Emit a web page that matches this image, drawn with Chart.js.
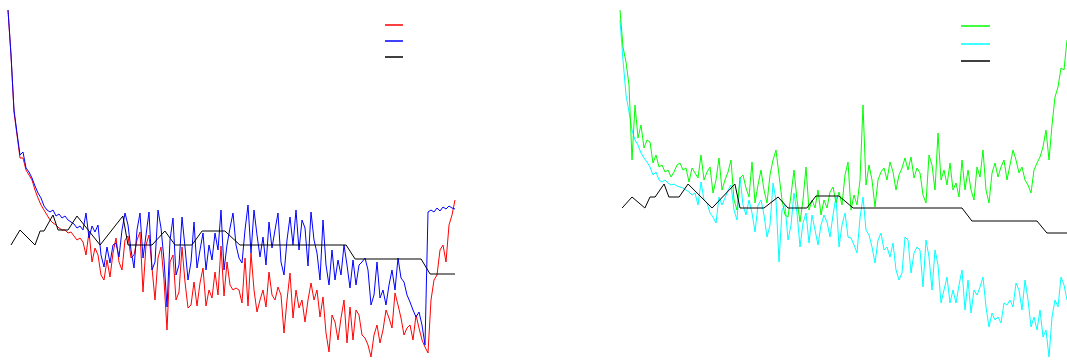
<!DOCTYPE html>
<html>
<head>
<meta charset="utf-8">
<script src="https://cdn.jsdelivr.net/npm/chart.js@4/dist/chart.umd.min.js"></script>
<style>
  html, body { margin: 0; padding: 0; background: #fff; }
  body { width: 1067px; height: 360px; position: relative; overflow: hidden; }
  .panel { position: absolute; top: 0; height: 360px; }
  #leftPanel { left: 0; width: 460px; }
  #rightPanel { left: 612px; width: 455px; }
  .legend { position: absolute; }
  .legend div { height: 2px; opacity: 0.75; }
</style>
</head>
<body>
<div class="panel" id="leftPanel"><canvas id="leftChart"></canvas></div>
<div class="panel" id="rightPanel"><canvas id="rightChart"></canvas></div>
<div class="legend" id="leftLegend" style="left:385px; top:24px; width:18px;"></div>
<div class="legend" id="rightLegend" style="left:961px; top:25px; width:29px;"></div>
<script>
// step index shared by every series
const steps = [];
for (let i = 0; i < 150; i++) steps.push(i);

// left panel
const redValues = [
  350,305,248,225,202,202,190,185,180,170,
  162,155,150,145,140,137,135,132,130,130,
  127,128,124,120,122,118,105,128,98,112,
  105,85,80,100,83,107,122,98,90,120,
  124,102,105,120,128,68,115,125,92,60,
  102,113,80,30,98,105,60,68,113,78,
  52,55,78,54,77,92,54,70,62,88,
  65,114,64,98,75,70,72,70,57,102,
  54,107,70,48,60,70,53,88,65,60,
  73,65,27,60,87,42,70,52,60,38,
  60,77,60,70,43,63,27,8,45,38,
  20,42,60,17,53,20,50,45,25,22,
  15,3,25,35,17,30,50,42,32,67,
  55,42,25,32,35,20,45,32,20,13,
  7,60,80,85,110,115,98,135,145,160
];
const blueValues = [
  350,305,250,227,205,208,192,188,182,174,
  167,162,154,150,148,150,144,146,142,144,
  140,138,136,132,134,130,147,122,134,128,
  135,105,93,113,97,115,117,103,130,147,
  135,110,92,130,147,102,125,148,90,98,
  150,132,100,53,120,142,85,95,143,113,
  80,98,138,92,110,127,90,115,100,127,
  110,150,90,115,132,147,115,102,97,130,
  155,107,150,125,103,123,95,138,112,130,
  147,98,85,120,143,115,150,110,140,132,
  94,148,120,107,80,140,95,75,110,80,
  100,85,115,95,72,100,75,95,98,102,
  90,55,65,98,62,70,55,75,90,70,
  102,82,78,65,58,50,43,48,35,15,
  148,150,148,152,149,153,151,154,152,151
];
const blackLeftX = [1,4,9,10.7,12,15,16.7,20,23,30.7,38.3,40,48,52.3,55.7,61.3,64.7,72.3,77.3,112.7,115.7,137.7,140.7,149];
const blackLeftY = [115,130,115,129,129,145,130,130,144,115,144,115,115,129,115,115,129,129,115,115,101,101,86,86];

// right panel
const greenValues = [
  350,313,298,275,200,255,222,235,212,220,
  218,197,205,193,195,188,190,183,188,195,
  197,190,192,178,192,187,182,205,180,188,
  193,167,180,202,170,180,188,200,160,150,
  182,185,172,163,198,157,175,190,170,157,
  185,200,210,185,160,145,143,165,190,160,
  138,160,193,150,160,152,170,145,160,152,
  168,173,157,168,155,185,198,150,165,155,
  180,255,175,195,180,153,180,188,192,180,
  198,188,170,185,192,202,190,203,182,192,
  187,165,157,205,195,170,227,180,190,175,
  197,170,177,163,200,170,190,170,160,193,
  183,210,170,157,187,197,183,193,200,180,
  195,210,200,187,193,180,175,167,190,197,
  203,213,230,200,235,263,273,292,290,320
];
const cyanValues = [
  340,300,265,248,230,220,215,207,202,198,
  193,185,188,180,178,180,177,175,176,174,
  173,172,170,168,165,167,155,178,160,157,
  147,143,137,163,155,162,170,175,150,140,
  183,155,145,160,147,128,155,160,145,123,
  135,177,160,98,150,155,120,135,167,147,
  113,137,147,117,145,130,115,135,145,138,
  123,145,163,113,135,147,123,122,115,107,
  142,163,130,125,113,97,120,127,110,113,
  103,117,90,80,87,123,120,87,107,113,
  110,73,120,103,70,110,95,57,70,83,
  57,70,57,75,90,50,80,47,70,65,
  73,83,53,33,47,40,43,37,57,55,
  60,53,77,70,50,80,60,33,43,30,
  50,23,30,3,43,60,53,83,75,60
];
const blackRightX = [0.7,4,8.3,10,11.7,14.7,16.3,19.7,22.7,30.7,38.3,40,48,52.7,56,62.3,65.3,73,77.7,114,117.3,139,142.3,149];
const blackRightY = [152,163,152,163,163,176,163,163,176,152,176,152,152,163,152,152,164,164,152,152,139,139,127,127];

function toPoints(xs, ys) {
    return xs.map((x, i) => ({ x: x, y: ys[i] }));
}

function line(label, data, color, order) {
    return {
        label: label,
        data: data,
        borderColor: color,
        backgroundColor: color,
        borderWidth: 1,
        pointRadius: 0,
        tension: 0,
        fill: false,
        order: order,
        clip: false
    };
}

function makeChart(id, datasets, padLeft, padRight) {
    return new Chart(document.getElementById(id), {
        type: "line",
        data: { labels: steps, datasets: datasets },
        options: {
            responsive: true,
            maintainAspectRatio: false,
            animation: false,
            devicePixelRatio: 1,
            layout: { padding: { left: padLeft, right: padRight, top: 0, bottom: 0 } },
            plugins: { legend: { display: false }, tooltip: { enabled: false } },
            scales: {
                x: { type: "linear", min: 0, max: 149, display: false },
                y: { min: 0, max: 360, display: false }
            }
        }
    });
}

function buildLegend(chart, id) {
    const box = document.getElementById(id);
    chart.data.datasets.forEach(ds => {
        const item = document.createElement("div");
        item.style.background = ds.borderColor;
        item.style.marginBottom = id === "leftLegend" ? "14px" : "15.5px";
        box.appendChild(item);
    });
}

const leftChart = makeChart("leftChart", [
    line("red", redValues, "#ff0000", 2),
    line("blue", blueValues, "#0000ff", 1),
    line("black", toPoints(blackLeftX, blackLeftY), "#000000", 0)
], 8, 5);

const rightChart = makeChart("rightChart", [
    line("green", greenValues, "#00ff00", 1),
    line("cyan", cyanValues, "#00ffff", 2),
    line("black", toPoints(blackRightX, blackRightY), "#000000", 0)
], 8, 0);

buildLegend(leftChart, "leftLegend");
buildLegend(rightChart, "rightLegend");
</script>
</body>
</html>
